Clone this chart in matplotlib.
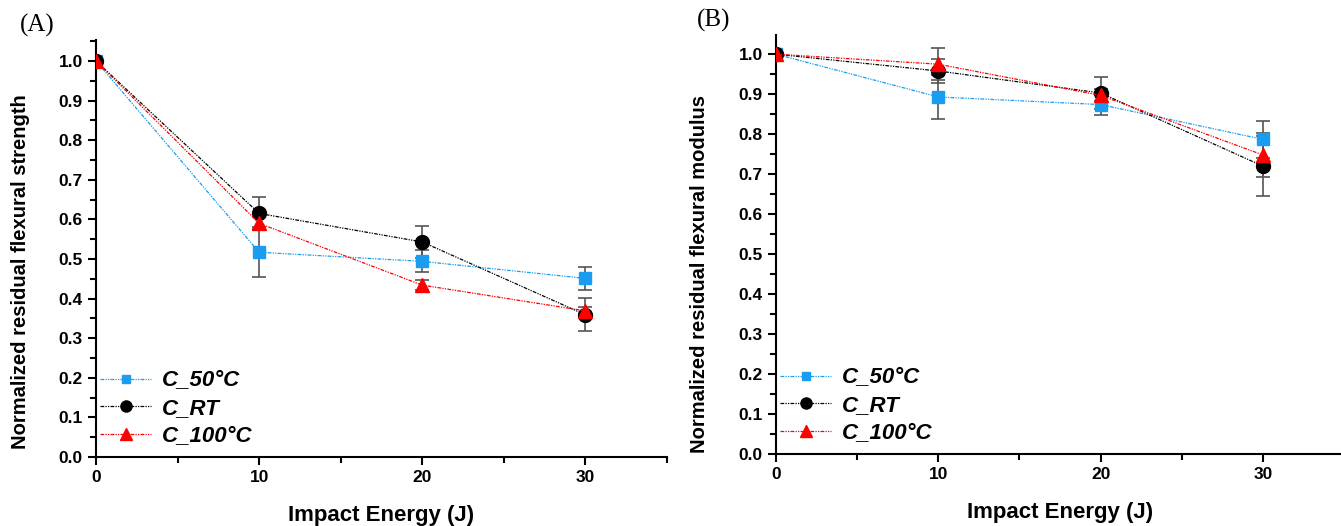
import matplotlib.pyplot as plt
from matplotlib.ticker import MultipleLocator

plt.rcParams['font.family'] = 'Liberation Sans'

energy = [0, 10, 20, 30]
labels = ['C_50°C', 'C_RT', 'C_100°C']

# (A) residual flexural strength
strength_50 = [1.0, 0.517, 0.494, 0.451]
strength_50_err = [0.0, 0.063, 0.028, 0.030]
strength_rt = [1.0, 0.615, 0.543, 0.359]
strength_rt_err = [0.0, 0.042, 0.040, 0.042]
strength_100 = [1.0, 0.590, 0.434, 0.369]
strength_100_err = [0.0, 0.015, 0.012, 0.010]

# (B) residual flexural modulus
modulus_50 = [1.0, 0.893, 0.874, 0.787]
modulus_50_err = [0.0, 0.055, 0.025, 0.047]
modulus_rt = [1.0, 0.958, 0.903, 0.720]
modulus_rt_err = [0.0, 0.030, 0.040, 0.075]
modulus_100 = [1.0, 0.975, 0.897, 0.748]
modulus_100_err = [0.0, 0.040, 0.015, 0.055]

colors = ['#1a9cf0', 'black', 'red']
markers = ['s', 'o', '^']
msizes = [8, 10, 10]

fig = plt.figure(figsize=(13.41, 5.26), dpi=100)
axA = fig.add_axes([96/1341, 1 - 457/526, (667-96)/1341, (457-40)/526])
axB = fig.add_axes([776/1341, 1 - 454/526, (1344-776)/1341, (454-35)/526])

def draw(ax, series, errs, ylabel, ymax, labx, laby):
    handles = []
    for y, e, c, m, ms, lab in zip(series, errs, colors, markers, msizes, labels):
        cont = ax.errorbar(energy, y, yerr=e, color=c, ecolor='#555555', elinewidth=1.2,
                           capsize=5, capthick=1.2, linestyle=(0, (3, 1, 1, 1, 1, 1)),
                           linewidth=0.9, marker=m, markersize=ms, zorder=3)
        handles.append(cont[0])
    ax.set_xlim(0, 35)
    ax.set_ylim(0, ymax)
    ax.xaxis.set_major_locator(MultipleLocator(10))
    ax.xaxis.set_minor_locator(MultipleLocator(5))
    ax.yaxis.set_major_locator(MultipleLocator(0.1))
    ax.yaxis.set_minor_locator(MultipleLocator(0.05))
    ax.set_yticks([i / 10 for i in range(11)])
    ax.spines['top'].set_visible(False)
    ax.spines['right'].set_visible(False)
    ax.spines['left'].set_linewidth(1.5)
    ax.spines['bottom'].set_linewidth(1.5)
    ax.tick_params(which='major', direction='out', length=6, width=1.5, labelsize=12.5)
    ax.tick_params(which='minor', direction='out', length=4, width=1.5)
    for t in ax.get_xticklabels() + ax.get_yticklabels():
        t.set_fontweight('bold')
    ax.set_xlabel('Impact Energy (J)', fontsize=16, fontweight='bold', labelpad=14)
    ax.set_ylabel(ylabel, fontsize=14.5, fontweight='bold')
    ax.yaxis.set_label_coords(labx, laby)
    ax.legend(handles, labels, loc='lower left', frameon=False, handlelength=2.3,
              handletextpad=0.45, labelspacing=0.3, borderaxespad=0.0, markerscale=0.8,
              bbox_to_anchor=(-0.008, 0.003),
              prop={'weight': 'bold', 'style': 'italic', 'size': 16})

draw(axA, [strength_50, strength_rt, strength_100],
     [strength_50_err, strength_rt_err, strength_100_err],
     'Normalized residual flexural strength', 1.053, -0.115, 0.445)
draw(axB, [modulus_50, modulus_rt, modulus_100],
     [modulus_50_err, modulus_rt_err, modulus_100_err],
     'Normalized residual flexural modulus', 1.048, -0.118, 0.43)

fig.text(20/1341, 1 - 25/526, '(A)', fontsize=18, family='Liberation Serif', va='center')
fig.text(697/1341, 1 - 20/526, '(B)', fontsize=18, family='Liberation Serif', va='center')

fig.savefig('out.png', dpi=100)
